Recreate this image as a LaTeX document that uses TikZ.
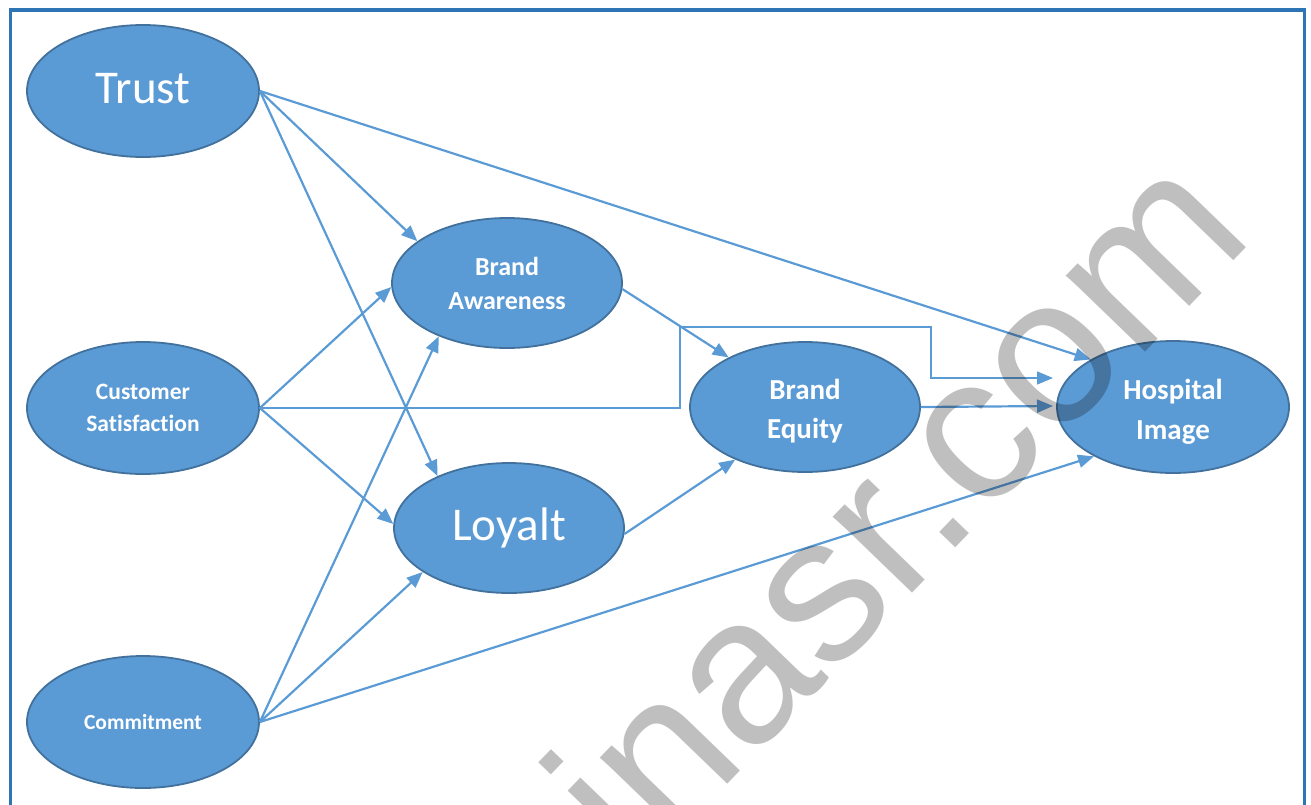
\documentclass[tikz,border=0pt]{standalone}
\usepackage{fontspec}
\setmainfont{Carlito}[Ligatures=NoCommon]
\newfontfamily\wmfont{Liberation Sans}
\usetikzlibrary{shapes.geometric,arrows.meta}
\definecolor{nodefill}{HTML}{5B9BD5}
\definecolor{nodeline}{HTML}{41719C}
\definecolor{framecol}{HTML}{2E75B6}
% struts that nudge a label up or down inside its ellipse
\newcommand{\topstrut}[1]{\rule{0pt}{#1}}
\newcommand{\botstrut}[1]{\rule[-#1]{0pt}{#1}}

\begin{document}
\begin{tikzpicture}[x=1pt,y=-1pt,
  construct/.style={ellipse, draw=nodeline, line width=1.8pt, fill=nodefill,
    text=white, inner sep=0pt, align=center},
  outerE/.style={construct, minimum width=232pt, minimum height=132pt},
  innerE/.style={construct, minimum width=230pt, minimum height=130pt},
  bigtxt/.style={font=\fontsize{47}{47}\selectfont},
  link/.style={draw=nodefill, line width=2.2pt, -{Triangle[length=16pt,width=13pt]}},
  thinlink/.style={link, line width=1.4pt}
]
\useasboundingbox (0,0) rectangle (1311,804);
\clip (0,0) rectangle (1311,804);

% outer frame (bottom edge lies below the page)
\draw[framecol, line width=3.5pt] (10.5,10) rectangle (1304.5,830);

% constructs
\node[outerE, bigtxt] (trust) at (143,91) {Trust\botstrut{6pt}};
\node[outerE, font=\fontsize{23.5}{32}\selectfont\bfseries] (cs) at (143,408) {Customer\\Satisfaction};
\node[outerE, font=\fontsize{21.5}{26}\selectfont\bfseries] (com) at (143,722) {Commitment};
\node[innerE, font=\fontsize{26}{34}\selectfont\bfseries] (ba) at (507,283) {Brand\\Awareness};
\node[innerE, bigtxt] (loy) at (509,528) {Loyalt};
\node[innerE, font=\fontsize{29}{39}\selectfont\bfseries] (be) at (805,407) {\topstrut{29pt}Brand\\Equity};
\node[outerE, font=\fontsize{29}{40}\selectfont\bfseries] (hi) at (1173,407) {\topstrut{29pt}Hospital\\Image};

% routing points of the elbow connector and free arrow ends
\coordinate (j1) at (680,327);
\coordinate (j2) at (931,378);
\coordinate (hin1) at (1053,378);
\coordinate (hin2) at (1053,406);

% connectors
\draw[link] (trust.east) -- (ba.155);
\draw[link] (trust.east) -- (loy.144);
\draw[link] (trust.east) -- (hi.150);

\draw[link] (cs.east) -- (ba.182);
\draw[link] (cs.east) -- (loy.178);
\draw[thinlink] (cs.east) -| (j1) -| (j2) -- (hin1);

\draw[link] (com.east) -- (ba.218);
\draw[link] (com.east) -- (loy.207);
\draw[link] (com.east) -- (hi.212);

\draw[link] (ba.-3) -- (be.147);
\draw[link] (loy.-3) -- (be.217);
\draw[link] (be.east) -- (hin2);

% watermark
\node[rotate=46, anchor=base west, inner sep=0pt, text=black, text opacity=0.25,
  font=\wmfont\fontsize{208}{208}\selectfont] (wm) at (637,878) {inasr.com};
\end{tikzpicture}
\end{document}
